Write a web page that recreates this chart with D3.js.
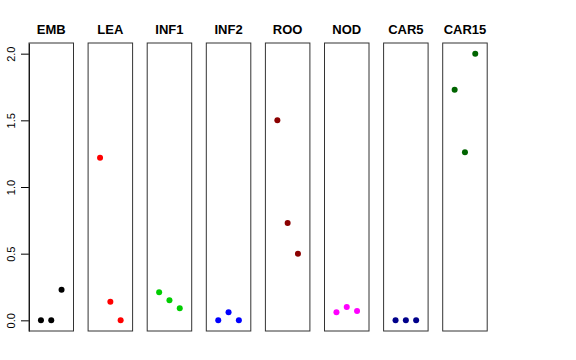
<!DOCTYPE html>
<html>
<head>
<meta charset="utf-8">
<script src="https://cdn.jsdelivr.net/npm/d3@7"></script>
<style>
  body { margin: 0; background: #fff; }
  svg { display: block; font-family: "Liberation Sans", Arial, sans-serif; }
</style>
</head>
<body>
<svg id="chart" width="576" height="360"></svg>
<script>
// panel names and point colours
const groups = ["EMB", "LEA", "INF1", "INF2", "ROO", "NOD", "CAR5", "CAR15"];
const colors = ["#000000", "#ff0000", "#00cd00", "#0000ff", "#8b0000", "#ff00ff", "#00008b", "#006400"];

// three replicate values per panel
const rep1 = [0.00, 1.22, 0.21, 0.00, 1.50, 0.06, 0.00, 1.73];
const rep2 = [0.00, 0.14, 0.15, 0.06, 0.73, 0.10, 0.00, 1.26];
const rep3 = [0.23, 0.00, 0.09, 0.00, 0.50, 0.07, 0.00, 2.00];

const yTicks = [0, 0.5, 1.0, 1.5, 2.0];

const svg = d3.select("#chart");

const plotTop = 43, plotBottom = 331;
const panelW = 44.5, panelStep = 59.1, firstLeft = 29;

const y = d3.scaleLinear()
    .domain([-0.08, 2.08])
    .range([plotBottom, plotTop]);

// y axis on the left of the first panel
const yAxis = d3.axisLeft(y)
    .tickValues(yTicks)
    .tickFormat(d3.format(".1f"))
    .tickSize(8)
    .tickSizeOuter(0);

const ax = svg.append("g")
    .attr("transform", `translate(${firstLeft},0)`)
    .call(yAxis);
ax.select(".domain").attr("stroke", "#000");
ax.selectAll(".tick line").attr("stroke", "#000");
ax.selectAll(".tick text")
    .attr("font-size", 11)
    .attr("fill", "#000")
    .attr("text-anchor", "middle")
    .attr("dy", "0")
    .attr("x", 0).attr("y", 0)
    .attr("transform", "translate(-14,0) rotate(-90)");

groups.forEach((name, i) => {
    const left = firstLeft + i * panelStep;
    const x = d3.scaleLinear()
        .domain([-0.16, 4.16])
        .range([left, left + panelW]);

    const g = svg.append("g");

    g.append("rect")
        .attr("x", left)
        .attr("y", plotTop)
        .attr("width", panelW)
        .attr("height", plotBottom - plotTop)
        .attr("fill", "none")
        .attr("stroke", "#333")
        .attr("stroke-width", 1);

    g.append("text")
        .attr("x", left + panelW / 2)
        .attr("y", 34)
        .attr("text-anchor", "middle")
        .attr("font-weight", "bold")
        .attr("font-size", 13)
        .text(name);

    const vals = [rep1[i], rep2[i], rep3[i]];
    g.selectAll("circle")
        .data(vals)
        .join("circle")
        .attr("cx", (d, j) => x(j + 1))
        .attr("cy", d => y(d))
        .attr("r", 3)
        .attr("fill", colors[i]);
});
</script>
</body>
</html>
